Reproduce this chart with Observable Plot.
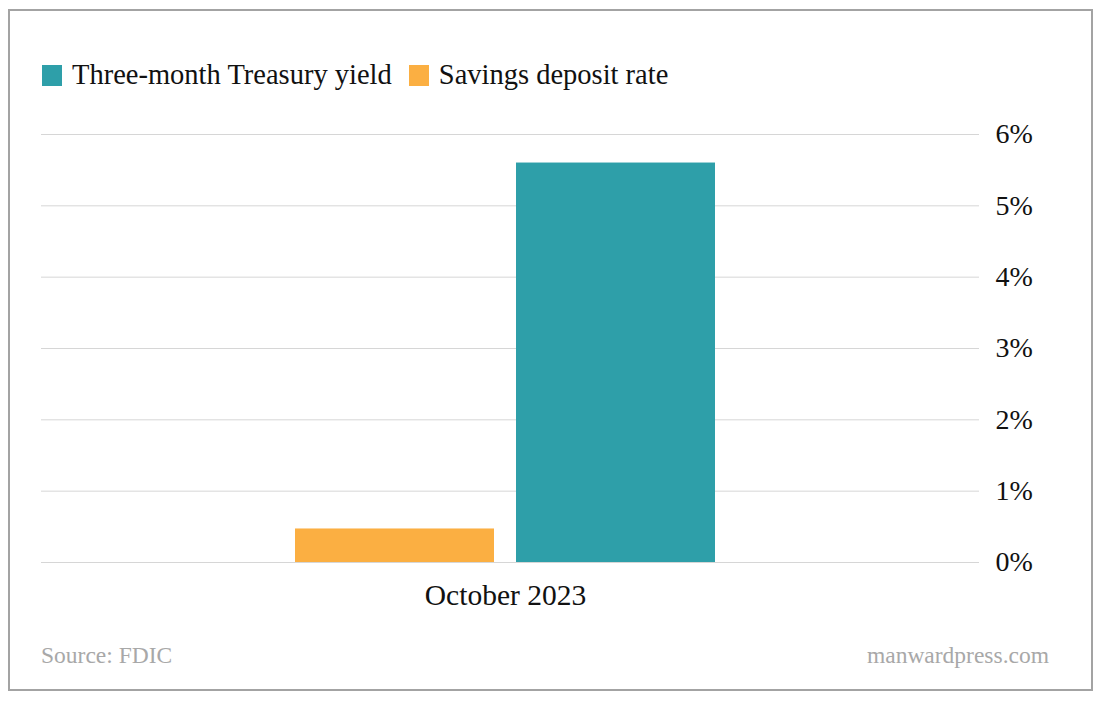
<!DOCTYPE html>
<html>
<head>
<meta charset="utf-8">
<script src="https://cdn.jsdelivr.net/npm/d3@7"></script>
<script src="https://cdn.jsdelivr.net/npm/@observablehq/plot@0.6"></script>
<style>
  html, body { margin: 0; padding: 0; background: #fff; }
  body { width: 1101px; height: 701px; position: relative; overflow: hidden; font-family: "Liberation Serif", "DejaVu Serif", serif; }
  #frame { position: absolute; left: 8px; top: 9px; width: 1081px; height: 678px; border: 2px solid #a3a3a3; box-sizing: content-box; }
  #legend { position: absolute; left: 42px; top: 59px; display: flex; align-items: center; font-size: 28.5px; color: #111; }
  .item { display: flex; align-items: center; margin-right: 17px; }
  .sw { width: 20px; height: 21px; margin-right: 10px; }
  #chart { position: absolute; left: 0; top: 100px; }
  .foot { position: absolute; top: 642px; font-size: 23.5px; color: #a8a8a8; font-family: "Liberation Serif", serif; }
  #src { left: 41px; }
  #site { right: 52px; }
</style>
</head>
<body>
<div id="frame"></div>
<div id="legend"></div>
<div id="chart"></div>
<div class="foot" id="src">Source: FDIC</div>
<div class="foot" id="site">manwardpress.com</div>
<script>
const series = ["Savings deposit rate", "Three-month Treasury yield"];
const values = [0.47, 5.6];
const period = ["October 2023"];
const yTicks = [0, 1, 2, 3, 4, 5, 6];
const colors = ["#FBAF42", "#2E9FA9"];
const legendOrder = ["Three-month Treasury yield", "Savings deposit rate"];

const data = series.map((s, i) => ({series: s, value: values[i], period: period[0]}));

const legend = document.getElementById("legend");
legendOrder.forEach(s => {
  const it = document.createElement("div");
  it.className = "item";
  const sw = document.createElement("div");
  sw.className = "sw";
  sw.style.background = colors[series.indexOf(s)];
  const t = document.createElement("span");
  t.textContent = s;
  it.appendChild(sw); it.appendChild(t);
  legend.appendChild(it);
});

const chart = Plot.plot({
  width: 1101,
  height: 520,
  marginTop: 34,
  marginBottom: 58,
  marginLeft: 41,
  marginRight: 122,
  style: {fontFamily: "Liberation Serif, serif", fontSize: "28px", color: "#111", background: "transparent"},
  x: {domain: series, paddingInner: 0.1, paddingOuter: 1.17, align: 0.49, axis: null},
  y: {domain: [0, 6], ticks: yTicks, axis: null},
  color: {domain: series, range: colors},
  marks: [
    Plot.ruleY(yTicks, {stroke: "#d6d6d6", strokeWidth: 1}),
    Plot.barY(data, {x: "series", y: "value", fill: "series"}),
    Plot.axisY(yTicks, {anchor: "right", tickSize: 0, tickPadding: 16, tickFormat: d => d + "%", textAnchor: "start", fontSize: 28, label: null}),
    Plot.text(period, {text: d => d, frameAnchor: "bottom", dy: 33, dx: -5, lineAnchor: "middle", fontSize: 29.5, fill: "#111"})
  ]
});
document.getElementById("chart").appendChild(chart);
</script>
</body>
</html>
